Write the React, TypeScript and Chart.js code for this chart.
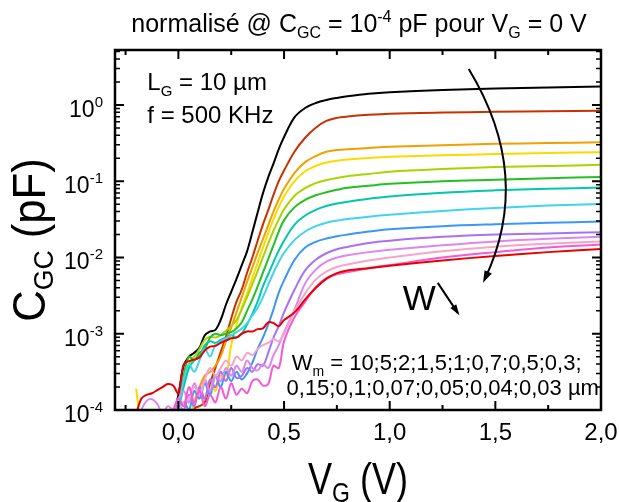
import React, { useEffect, useRef } from "react";
import { Chart, registerables } from "chart.js";

Chart.register(...registerables);

const N = null;

// Gate voltage grid (V)
const vgGrid = [-0.2, -0.175, -0.15, -0.125, -0.1, -0.075, -0.05, -0.025, 0, 0.025, 0.05, 0.075, 0.1, 0.125, 0.15, 0.175, 0.2, 0.225, 0.25, 0.275, 0.3, 0.325, 0.35, 0.375, 0.4, 0.425, 0.45, 0.475, 0.5, 0.55, 0.6, 0.65, 0.7, 0.75, 0.8, 0.9, 1.0, 1.25, 1.5, 1.75, 2.0];

// log10 of C_GC (pF) for each W_m
const logW10 = [N, N, N, N, N, N, -4.4, -4.1, -3.8, -3.42, -3.3, -3.25, -3.18, -3.02, -2.97, -2.95, -2.82, -2.62, -2.45, -2.28, -2.1, -1.92, -1.67, -1.41, -1.16, -0.95, -0.77, -0.58, -0.42, -0.16, -0.04, 0.025, 0.065, 0.092, 0.113, 0.145, 0.165, 0.195, 0.215, 0.23, 0.24];
const logW5 = [N, N, N, N, N, N, N, N, -4.3, -4.2, -4.1, -3.98, -3.95, -3.9, -3.65, -3.45, -3.24, -3.04, -2.8, -2.58, -2.42, -2.2, -2.0, -1.78, -1.57, -1.38, -1.18, -1.0, -0.86, -0.61, -0.43, -0.3, -0.21, -0.17, -0.152, -0.13, -0.115, -0.1, -0.09, -0.082, -0.075];
const logW2 = [N, N, N, N, N, N, N, N, N, N, -4.3, -3.9, -3.7, -3.55, -3.5, -3.42, -3.3, -3.1, -2.92, -2.72, -2.52, -2.32, -2.13, -1.94, -1.76, -1.58, -1.4, -1.24, -1.1, -0.89, -0.75, -0.67, -0.615, -0.592, -0.58, -0.565, -0.55, -0.53, -0.51, -0.5, -0.49];
const logW1_5 = [-3.72, -4.3, N, N, N, N, N, N, N, N, -4.2, -3.9, -3.75, -3.85, -3.6, -3.75, -3.55, -3.55, -3.15, -2.88, -2.66, -2.47, -2.27, -2.07, -1.87, -1.68, -1.5, -1.34, -1.2, -1.0, -0.87, -0.8, -0.755, -0.732, -0.716, -0.695, -0.68, -0.66, -0.645, -0.63, -0.62];
const logW1 = [N, N, N, N, N, N, -4.4, -4.2, -4.0, -3.6, -3.4, -3.3, -3.2, -3.08, -3.04, -3.05, -3.02, -2.96, -2.9, -2.82, -2.68, -2.52, -2.35, -2.18, -2.0, -1.82, -1.65, -1.5, -1.37, -1.19, -1.09, -1.025, -0.985, -0.957, -0.936, -0.905, -0.875, -0.84, -0.815, -0.8, -0.786];
const logW0_7 = [N, N, N, N, N, N, -4.4, -4.2, -4.0, -3.55, -3.3, -3.35, -3.25, -3.2, -3.05, -3.0, -3.02, -3.0, -2.98, -2.93, -2.85, -2.7, -2.55, -2.38, -2.2, -2.02, -1.84, -1.66, -1.51, -1.34, -1.245, -1.185, -1.145, -1.113, -1.087, -1.06, -1.035, -1.0, -0.98, -0.96, -0.944];
const logW0_5 = [N, N, N, N, N, N, -4.5, -4.3, -4.0, -3.7, -3.45, -3.35, -3.3, -3.15, -3.1, -3.12, -3.08, -3.05, -3.02, -3.05, -3.0, -2.88, -2.74, -2.58, -2.38, -2.22, -2.06, -1.91, -1.78, -1.57, -1.45, -1.375, -1.325, -1.292, -1.27, -1.23, -1.2, -1.15, -1.12, -1.1, -1.084];
const logW0_3 = [N, N, N, N, N, N, -4.4, -4.3, -4.0, -3.6, -3.4, -3.5, -3.35, -3.2, -3.3, -3.15, -3.1, -3.06, -3.02, -2.98, -2.93, -2.86, -2.76, -2.66, -2.52, -2.36, -2.2, -2.06, -1.94, -1.77, -1.66, -1.59, -1.545, -1.517, -1.496, -1.465, -1.44, -1.39, -1.35, -1.32, -1.3];
const logW0_15 = [N, N, N, N, N, N, -4.3, -4.2, -4.0, -3.9, -4.0, -3.75, -3.85, -3.65, -3.8, -3.55, -3.7, -3.5, -3.62, -3.5, -3.6, -3.52, -3.38, -3.2, -3.05, -2.88, -2.68, -2.46, -2.3, -2.03, -1.87, -1.795, -1.752, -1.722, -1.7, -1.66, -1.63, -1.59, -1.565, -1.545, -1.53];
const logW0_1 = [N, N, N, N, -4.3, -4.2, -4.1, -4.0, -3.95, -4.0, -3.8, -3.95, -3.7, -3.85, -3.6, -3.7, -3.5, -3.62, -3.45, -3.58, -3.55, -3.45, -3.5, -3.4, -3.42, -3.25, -3.05, -2.9, -2.72, -2.42, -2.17, -2.03, -1.945, -1.893, -1.862, -1.81, -1.78, -1.73, -1.7, -1.685, -1.67];
const logW0_07 = [-4.3, -4.0, -3.88, -3.86, -3.92, -4.05, -3.95, -4.0, -3.85, -3.75, -3.9, -3.65, -3.8, -3.6, -3.75, -3.55, -3.62, -3.45, -3.55, -3.42, -3.5, -3.35, -3.45, -3.48, -3.4, -3.45, -3.28, -3.15, -2.98, -2.68, -2.34, -2.16, -2.055, -2.002, -1.972, -1.93, -1.9, -1.84, -1.79, -1.755, -1.73];
const logW0_05 = [N, N, N, N, N, N, -4.3, -4.1, -4.0, -3.9, -3.85, -3.7, -3.8, -3.6, -3.45, -3.55, -3.45, -3.35, -3.42, -3.3, -3.35, -3.25, -3.28, -3.2, -3.15, -3.12, -3.07, -3.1, -3.0, -2.7, -2.47, -2.29, -2.185, -2.125, -2.092, -2.04, -2.0, -1.92, -1.86, -1.82, -1.79];
const logW0_04 = [N, N, N, N, -4.3, -4.2, -4.1, -4.0, -3.85, -3.95, -3.7, -3.9, -3.75, -3.95, -3.8, -3.9, -3.7, -3.85, -3.65, -3.8, -3.72, -3.78, -3.62, -3.6, -3.68, -3.66, -3.42, -3.45, -3.1, -2.78, -2.58, -2.39, -2.27, -2.222, -2.192, -2.14, -2.1, -2.0, -1.93, -1.87, -1.83];
const logW0_03 = [-4.05, -3.85, -3.8, -3.78, -3.74, -3.7, -3.66, -3.68, -3.78, -3.4, -3.36, -3.34, -3.31, -3.22, -3.17, -3.16, -3.12, -3.09, -3.06, -3.05, -3.0, -2.97, -2.97, -2.94, -2.93, -2.85, -2.86, -2.9, -2.82, -2.72, -2.55, -2.4, -2.28, -2.205, -2.172, -2.14, -2.11, -2.04, -1.98, -1.93, -1.89];

const seriesLabels = ["10", "5", "2", "1,5", "1", "0,7", "0,5", "0,3", "0,15", "0,1", "0,07", "0,05", "0,04", "0,03"];
const seriesLogs = [logW10, logW5, logW2, logW1_5, logW1, logW0_7, logW0_5, logW0_3, logW0_15, logW0_1, logW0_07, logW0_05, logW0_04, logW0_03];
const seriesColors = [
  "#000000", "#c83200", "#f0a000", "#f8dc00", "#a8d400", "#22c022", "#00c8a8",
  "#40d4f0", "#3c96f8", "#a872f4", "#dc86f0", "#f8a4c8", "#f25ad6", "#e80000",
];

// Axes
const xMin = -0.3;
const xMax = 2.0;
const yMin = 1e-4;
const yMax = 5.25;
const xTickValues = [-0.25, 0, 0.25, 0.5, 0.75, 1.0, 1.25, 1.5, 1.75, 2.0];
const xLabelValues = [0, 0.5, 1.0, 1.5, 2.0];
const xLabelTexts = ["0,0", "0,5", "1,0", "1,5", "2,0"];
const yDecadeExps = [-4, -3, -2, -1, 0];
const yDecadeTexts = ["-4", "-3", "-2", "-1", "0"];

const FONT = '"Liberation Sans", Arial, Helvetica, sans-serif';

type Seg = { t: string; size: number; dy?: number };

function richWidth(ctx: CanvasRenderingContext2D, segs: Seg[]) {
  let w = 0;
  for (const s of segs) {
    ctx.font = `${s.size}px ${FONT}`;
    w += ctx.measureText(s.t).width;
  }
  return w;
}

function drawRich(ctx: CanvasRenderingContext2D, segs: Seg[], x: number, y: number, align: string, sx = 1) {
  const w = richWidth(ctx, segs) * sx;
  const x0 = align === "left" ? x : align === "center" ? x - w / 2 : x - w;
  ctx.save();
  ctx.translate(x0, y);
  ctx.scale(sx, 1);
  ctx.textAlign = "left";
  ctx.textBaseline = "alphabetic";
  let cx = 0;
  for (const s of segs) {
    ctx.font = `${s.size}px ${FONT}`;
    ctx.fillText(s.t, cx, s.dy || 0);
    cx += ctx.measureText(s.t).width;
  }
  ctx.restore();
}

function arrowHead(ctx: CanvasRenderingContext2D, tipX: number, tipY: number, ux: number, uy: number, len: number, half: number) {
  const bx = tipX - ux * len;
  const by = tipY - uy * len;
  ctx.beginPath();
  ctx.moveTo(tipX, tipY);
  ctx.lineTo(bx - uy * half, by + ux * half);
  ctx.lineTo(bx + uy * half, by - ux * half);
  ctx.closePath();
  ctx.fill();
}

const overlayPlugin = {
  id: "overlay",
  afterDraw(chart: any) {
    const ctx: CanvasRenderingContext2D = chart.ctx;
    const xs = chart.scales.x;
    const ys = chart.scales.y;
    const { left, right, top, bottom } = chart.chartArea;
    const P = (v: number, c: number) => [xs.getPixelForValue(v), ys.getPixelForValue(c)];
    ctx.save();
    ctx.fillStyle = "#000";
    ctx.strokeStyle = "#000";

    // x ticks (inward, bottom and top)
    for (const v of xTickValues) {
      const px = xs.getPixelForValue(v);
      const major = xLabelValues.includes(v);
      const len = major ? 9 : 5;
      ctx.lineWidth = 2;
      ctx.beginPath();
      ctx.moveTo(px, bottom);
      ctx.lineTo(px, bottom - len);
      ctx.moveTo(px, top);
      ctx.lineTo(px, top + len);
      ctx.stroke();
    }
    // y ticks (inward, left and right)
    for (const e of yDecadeExps) {
      for (let m = 1; m <= 9; m++) {
        const v = m * Math.pow(10, e);
        if (v > yMax || v < yMin) continue;
        const py = ys.getPixelForValue(v);
        const len = m === 1 ? 9 : 5;
        ctx.lineWidth = m === 1 ? 2 : 1.5;
        ctx.beginPath();
        ctx.moveTo(left, py);
        ctx.lineTo(left + len, py);
        ctx.moveTo(right, py);
        ctx.lineTo(right - len, py);
        ctx.stroke();
      }
    }
    // frame
    ctx.lineWidth = 2.5;
    ctx.strokeRect(left, top, right - left, bottom - top);

    // x tick labels
    xLabelValues.forEach((v, i) => {
      drawRich(ctx, [{ t: xLabelTexts[i], size: 24 }], xs.getPixelForValue(v), bottom + 30, "center");
    });
    // y tick labels
    yDecadeExps.forEach((e, i) => {
      const py = ys.getPixelForValue(Math.pow(10, e));
      drawRich(ctx, [{ t: "10", size: 23 }, { t: yDecadeTexts[i], size: 15, dy: -10 }], left - 12, py + 12, "right");
    });

    // title
    drawRich(
      ctx,
      [
        { t: "normalisé @ C", size: 25 },
        { t: "GC", size: 16, dy: 6 },
        { t: " = 10", size: 25 },
        { t: "-4", size: 16, dy: -10 },
        { t: " pF pour V", size: 25 },
        { t: "G", size: 16, dy: 6 },
        { t: " = 0 V", size: 25 },
      ],
      (left + right) / 2 + 1,
      top - 18,
      "center"
    );

    // x axis title
    drawRich(
      ctx,
      [
        { t: "V", size: 44 },
        { t: "G", size: 28, dy: 8 },
        { t: " (V)", size: 44 },
      ],
      (left + right) / 2,
      bottom + 84,
      "center",
      0.82
    );

    // y axis title (rotated)
    ctx.save();
    ctx.translate(left - 70, (top + bottom) / 2 + 10);
    ctx.rotate(-Math.PI / 2);
    drawRich(
      ctx,
      [
        { t: "C", size: 46 },
        { t: "GC", size: 28, dy: 8 },
        { t: " (pF)", size: 46 },
      ],
      0,
      0,
      "center",
      0.95
    );
    ctx.restore();

    // annotations (anchored in data coordinates)
    let p = P(-0.147, 1.57);
    drawRich(ctx, [{ t: "L", size: 24 }, { t: "G", size: 15, dy: 6 }, { t: " = 10 µm", size: 24 }], p[0], p[1], "left");
    p = P(-0.147, 0.58);
    drawRich(ctx, [{ t: "f = 500 KHz", size: 24 }], p[0], p[1], "left");
    p = P(0.536, 3.37e-4);
    drawRich(ctx, [{ t: "W", size: 22 }, { t: "m", size: 14, dy: 6 }, { t: " = 10;5;2;1,5;1;0,7;0,5;0,3;", size: 22 }], p[0], p[1], "left");
    p = P(1.99, 1.58e-4);
    drawRich(ctx, [{ t: "0,15;0,1;0,07;0,05;0,04;0,03 µm", size: 22 }], p[0], p[1], "right");
    p = P(1.062, 2.06e-3);
    drawRich(ctx, [{ t: "W", size: 35 }], p[0], p[1], "left");

    // small arrow next to W
    const a0 = P(1.2275, 4.65e-3);
    const a1 = P(1.322, 1.88e-3);
    ctx.lineWidth = 2;
    ctx.beginPath();
    ctx.moveTo(a0[0], a0[1]);
    ctx.lineTo(a1[0], a1[1]);
    ctx.stroke();
    {
      const dx = a1[0] - a0[0];
      const dy = a1[1] - a0[1];
      const d = Math.hypot(dx, dy);
      arrowHead(ctx, a1[0] + (dx / d) * 3, a1[1] + (dy / d) * 3, dx / d, dy / d, 11, 3.5);
    }

    // curved arrow
    const c0 = P(1.374, 2.96);
    const cc = P(1.682, 0.117);
    const c1 = P(1.45, 0.0052);
    ctx.lineWidth = 2;
    ctx.beginPath();
    ctx.moveTo(c0[0], c0[1]);
    ctx.quadraticCurveTo(cc[0], cc[1], c1[0], c1[1]);
    ctx.stroke();
    {
      const dx = c1[0] - cc[0];
      const dy = c1[1] - cc[1];
      const d = Math.hypot(dx, dy);
      arrowHead(ctx, c1[0] + (dx / d) * 4, c1[1] + (dy / d) * 4, dx / d, dy / d, 12, 4);
    }

    ctx.restore();
  },
};

export default function App() {
  const canvasRef = useRef<HTMLCanvasElement | null>(null);

  useEffect(() => {
    const canvas = canvasRef.current;
    if (!canvas) return;
    const datasets = seriesLogs.map((logs, i) => ({
      label: `W = ${seriesLabels[i]} µm`,
      data: vgGrid.map((v, k) => ({ x: v, y: logs[k] === null ? null : Math.pow(10, logs[k] as number) })),
      borderColor: seriesColors[i],
      backgroundColor: seriesColors[i],
      borderWidth: 2,
      pointRadius: 0,
      fill: false,
      spanGaps: false,
      tension: 0.35,
      order: seriesLogs.length - i,
    }));
    // red (smallest W) drawn on top
    datasets[datasets.length - 1].order = 0;

    const chart = new Chart(canvas, {
      type: "line",
      data: { datasets },
      options: {
        responsive: false,
        animation: false,
        devicePixelRatio: 1,
        layout: { padding: { left: 115, right: 18, top: 50, bottom: 92 } },
        plugins: {
          legend: { display: false },
          tooltip: { enabled: false },
          title: { display: false },
        },
        scales: {
          x: { type: "linear", min: xMin, max: xMax, display: false },
          y: { type: "logarithmic", min: yMin, max: yMax, display: false },
        },
      },
      plugins: [overlayPlugin],
    });
    return () => chart.destroy();
  }, []);

  return (
    <div style={{ position: "absolute", left: 0, top: 0, width: 619, height: 502, background: "#fff" }}>
      <canvas ref={canvasRef} width={619} height={502} />
    </div>
  );
}
